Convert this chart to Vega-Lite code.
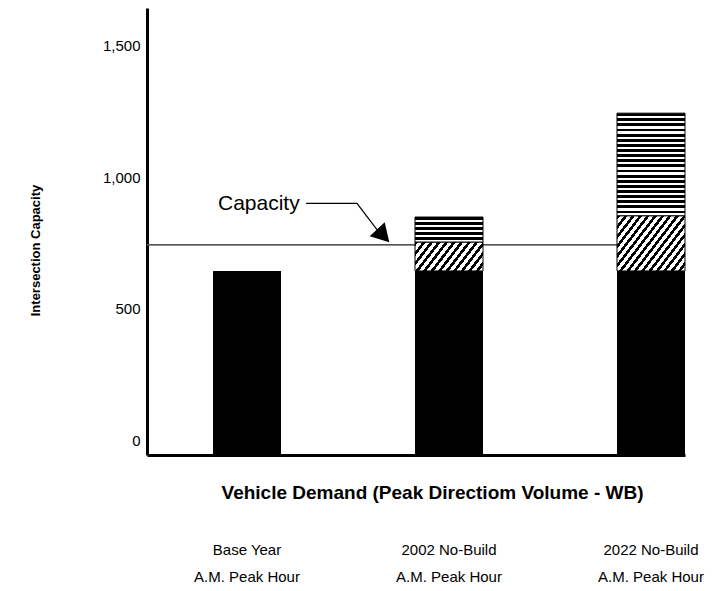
{
  "$schema": "https://vega.github.io/schema/vega-lite/v6.json",
  "autosize": "none",
  "width": 538,
  "height": 447,
  "padding": {"left": 147, "top": 8, "right": 30, "bottom": 136},
  "background": "white",
  "config": {
    "view": {"stroke": null},
    "font": "Liberation Sans",
    "axis": {"labelFont": "Liberation Sans", "titleFont": "Liberation Sans", "labelColor": "#000", "titleColor": "#000"}
  },
  "resolve": {"scale": {"x": "independent"}},
  "layer": [
    {
      "data": {
        "values": [
          {"period": "Base Year", "segment": "Existing", "order": 1, "value": 700},
          {"period": "2002 No-Build", "segment": "Existing", "order": 1, "value": 700},
          {"period": "2002 No-Build", "segment": "Growth", "order": 2, "value": 110},
          {"period": "2002 No-Build", "segment": "Development", "order": 3, "value": 95},
          {"period": "2022 No-Build", "segment": "Existing", "order": 1, "value": 700},
          {"period": "2022 No-Build", "segment": "Growth", "order": 2, "value": 210},
          {"period": "2022 No-Build", "segment": "Development", "order": 3, "value": 390}
        ]
      },
      "transform": [
        {"stack": "value", "groupby": ["period"], "sort": [{"field": "order", "order": "ascending"}], "as": ["v0", "v1"]}
      ],
      "encoding": {
        "x": {
          "field": "period", "type": "nominal",
          "scale": {"domain": ["Base Year", "2002 No-Build", "2022 No-Build"], "paddingInner": 0.6634, "paddingOuter": 0.1634, "align": 1},
          "axis": {
            "title": "Vehicle Demand (Peak Directiom Volume - WB)",
            "titleFontWeight": "bold", "titleFontSize": 19,
            "titleX": 285, "titleY": 28, "titleAnchor": "middle",
            "labelExpr": "[datum.value, 'A.M. Peak Hour']",
            "labelAngle": 0, "labelFontSize": 15, "labelLineHeight": 27,
            "labelPadding": 87, "labelBaseline": "top",
            "ticks": false, "domainColor": "#000", "domainWidth": 3, "grid": false
          }
        },
        "y": {
          "field": "v1", "type": "quantitative",
          "scale": {"domain": [0, 1700], "nice": false},
          "axis": {
            "title": "Intersection Capacity",
            "titleFontWeight": "bold", "titleFontSize": 13,
            "titleX": -112, "titleY": 242, "titleAngle": -90, "titleBaseline": "middle", "titleAnchor": "middle",
            "values": [0, 500, 1000, 1500], "format": ",.0f",
            "labelFontSize": 15, "labelOffset": -15, "labelPadding": 7,
            "ticks": false, "grid": false, "domainColor": "#000", "domainWidth": 3
          }
        },
        "y2": {"field": "v0"}
      },
      "layer": [
        {
          "mark": {"type": "rule", "color": "#555", "strokeWidth": 1},
          "encoding": {"y": {"datum": 800, "type": "quantitative"}, "y2": null, "x": null}
        },
        {
          "transform": [{"filter": "datum.segment === 'Existing'"}],
          "mark": {"type": "bar", "fill": "#000"}
        },
        {
          "transform": [{"filter": "datum.segment === 'Growth' && datum.period === '2002 No-Build'"}],
          "mark": {"type": "bar", "stroke": "#000", "strokeWidth": 1, "fill": {
            "gradient": "linear", "x1": 0, "y1": 0, "x2": 1.199, "y2": 0.393,
            "stops": [
              {"offset": 0, "color": "#000"}, {"offset": 0.0375, "color": "#000"}, {"offset": 0.0375, "color": "#fff"}, {"offset": 0.0833, "color": "#fff"},
              {"offset": 0.0833, "color": "#000"}, {"offset": 0.1208, "color": "#000"}, {"offset": 0.1208, "color": "#fff"}, {"offset": 0.1667, "color": "#fff"},
              {"offset": 0.1667, "color": "#000"}, {"offset": 0.2042, "color": "#000"}, {"offset": 0.2042, "color": "#fff"}, {"offset": 0.25, "color": "#fff"},
              {"offset": 0.25, "color": "#000"}, {"offset": 0.2875, "color": "#000"}, {"offset": 0.2875, "color": "#fff"}, {"offset": 0.3333, "color": "#fff"},
              {"offset": 0.3333, "color": "#000"}, {"offset": 0.3708, "color": "#000"}, {"offset": 0.3708, "color": "#fff"}, {"offset": 0.4167, "color": "#fff"},
              {"offset": 0.4167, "color": "#000"}, {"offset": 0.4542, "color": "#000"}, {"offset": 0.4542, "color": "#fff"}, {"offset": 0.5, "color": "#fff"},
              {"offset": 0.5, "color": "#000"}, {"offset": 0.5375, "color": "#000"}, {"offset": 0.5375, "color": "#fff"}, {"offset": 0.5833, "color": "#fff"},
              {"offset": 0.5833, "color": "#000"}, {"offset": 0.6208, "color": "#000"}, {"offset": 0.6208, "color": "#fff"}, {"offset": 0.6667, "color": "#fff"},
              {"offset": 0.6667, "color": "#000"}, {"offset": 0.7042, "color": "#000"}, {"offset": 0.7042, "color": "#fff"}, {"offset": 0.75, "color": "#fff"},
              {"offset": 0.75, "color": "#000"}, {"offset": 0.7875, "color": "#000"}, {"offset": 0.7875, "color": "#fff"}, {"offset": 0.8333, "color": "#fff"},
              {"offset": 0.8333, "color": "#000"}, {"offset": 0.8708, "color": "#000"}, {"offset": 0.8708, "color": "#fff"}, {"offset": 0.9167, "color": "#fff"},
              {"offset": 0.9167, "color": "#000"}, {"offset": 0.9542, "color": "#000"}, {"offset": 0.9542, "color": "#fff"}, {"offset": 1, "color": "#fff"}
            ]
          }}
        },
        {
          "transform": [{"filter": "datum.segment === 'Growth' && datum.period === '2022 No-Build'"}],
          "mark": {"type": "bar", "stroke": "#000", "strokeWidth": 1, "fill": {
            "gradient": "linear", "x1": 0, "y1": 0, "x2": 1.17, "y2": 0.728,
            "stops": [
              {"offset": 0, "color": "#000"}, {"offset": 0.03, "color": "#000"}, {"offset": 0.03, "color": "#fff"}, {"offset": 0.0667, "color": "#fff"},
              {"offset": 0.0667, "color": "#000"}, {"offset": 0.0967, "color": "#000"}, {"offset": 0.0967, "color": "#fff"}, {"offset": 0.1333, "color": "#fff"},
              {"offset": 0.1333, "color": "#000"}, {"offset": 0.1633, "color": "#000"}, {"offset": 0.1633, "color": "#fff"}, {"offset": 0.2, "color": "#fff"},
              {"offset": 0.2, "color": "#000"}, {"offset": 0.23, "color": "#000"}, {"offset": 0.23, "color": "#fff"}, {"offset": 0.2667, "color": "#fff"},
              {"offset": 0.2667, "color": "#000"}, {"offset": 0.2967, "color": "#000"}, {"offset": 0.2967, "color": "#fff"}, {"offset": 0.3333, "color": "#fff"},
              {"offset": 0.3333, "color": "#000"}, {"offset": 0.3633, "color": "#000"}, {"offset": 0.3633, "color": "#fff"}, {"offset": 0.4, "color": "#fff"},
              {"offset": 0.4, "color": "#000"}, {"offset": 0.43, "color": "#000"}, {"offset": 0.43, "color": "#fff"}, {"offset": 0.4667, "color": "#fff"},
              {"offset": 0.4667, "color": "#000"}, {"offset": 0.4967, "color": "#000"}, {"offset": 0.4967, "color": "#fff"}, {"offset": 0.5333, "color": "#fff"},
              {"offset": 0.5333, "color": "#000"}, {"offset": 0.5633, "color": "#000"}, {"offset": 0.5633, "color": "#fff"}, {"offset": 0.6, "color": "#fff"},
              {"offset": 0.6, "color": "#000"}, {"offset": 0.63, "color": "#000"}, {"offset": 0.63, "color": "#fff"}, {"offset": 0.6667, "color": "#fff"},
              {"offset": 0.6667, "color": "#000"}, {"offset": 0.6967, "color": "#000"}, {"offset": 0.6967, "color": "#fff"}, {"offset": 0.7333, "color": "#fff"},
              {"offset": 0.7333, "color": "#000"}, {"offset": 0.7633, "color": "#000"}, {"offset": 0.7633, "color": "#fff"}, {"offset": 0.8, "color": "#fff"},
              {"offset": 0.8, "color": "#000"}, {"offset": 0.83, "color": "#000"}, {"offset": 0.83, "color": "#fff"}, {"offset": 0.8667, "color": "#fff"},
              {"offset": 0.8667, "color": "#000"}, {"offset": 0.8967, "color": "#000"}, {"offset": 0.8967, "color": "#fff"}, {"offset": 0.9333, "color": "#fff"},
              {"offset": 0.9333, "color": "#000"}, {"offset": 0.9633, "color": "#000"}, {"offset": 0.9633, "color": "#fff"}, {"offset": 1, "color": "#fff"}
            ]
          }}
        },
        {
          "transform": [{"filter": "datum.segment === 'Development' && datum.period === '2002 No-Build'"}],
          "mark": {"type": "bar", "stroke": "#000", "strokeWidth": 1, "fill": {
            "gradient": "linear", "x1": 0, "y1": 0, "x2": 0, "y2": 1,
            "stops": [
              {"offset": 0, "color": "#000"}, {"offset": 0.1, "color": "#000"}, {"offset": 0.1, "color": "#fff"}, {"offset": 0.2, "color": "#fff"},
              {"offset": 0.2, "color": "#000"}, {"offset": 0.3, "color": "#000"}, {"offset": 0.3, "color": "#fff"}, {"offset": 0.4, "color": "#fff"},
              {"offset": 0.4, "color": "#000"}, {"offset": 0.5, "color": "#000"}, {"offset": 0.5, "color": "#fff"}, {"offset": 0.6, "color": "#fff"},
              {"offset": 0.6, "color": "#000"}, {"offset": 0.7, "color": "#000"}, {"offset": 0.7, "color": "#fff"}, {"offset": 0.8, "color": "#fff"},
              {"offset": 0.8, "color": "#000"}, {"offset": 0.9, "color": "#000"}, {"offset": 0.9, "color": "#fff"}, {"offset": 1, "color": "#fff"}
            ]
          }}
        },
        {
          "transform": [{"filter": "datum.segment === 'Development' && datum.period === '2022 No-Build'"}],
          "mark": {"type": "bar", "stroke": "#000", "strokeWidth": 1, "fill": {
            "gradient": "linear", "x1": 0, "y1": 0, "x2": 0, "y2": 1,
            "stops": [
              {"offset": 0, "color": "#000"}, {"offset": 0.0275, "color": "#000"}, {"offset": 0.0275, "color": "#fff"}, {"offset": 0.05, "color": "#fff"},
              {"offset": 0.05, "color": "#000"}, {"offset": 0.0775, "color": "#000"}, {"offset": 0.0775, "color": "#fff"}, {"offset": 0.1, "color": "#fff"},
              {"offset": 0.1, "color": "#000"}, {"offset": 0.1275, "color": "#000"}, {"offset": 0.1275, "color": "#fff"}, {"offset": 0.15, "color": "#fff"},
              {"offset": 0.15, "color": "#000"}, {"offset": 0.1775, "color": "#000"}, {"offset": 0.1775, "color": "#fff"}, {"offset": 0.2, "color": "#fff"},
              {"offset": 0.2, "color": "#000"}, {"offset": 0.2275, "color": "#000"}, {"offset": 0.2275, "color": "#fff"}, {"offset": 0.25, "color": "#fff"},
              {"offset": 0.25, "color": "#000"}, {"offset": 0.2775, "color": "#000"}, {"offset": 0.2775, "color": "#fff"}, {"offset": 0.3, "color": "#fff"},
              {"offset": 0.3, "color": "#000"}, {"offset": 0.3275, "color": "#000"}, {"offset": 0.3275, "color": "#fff"}, {"offset": 0.35, "color": "#fff"},
              {"offset": 0.35, "color": "#000"}, {"offset": 0.3775, "color": "#000"}, {"offset": 0.3775, "color": "#fff"}, {"offset": 0.4, "color": "#fff"},
              {"offset": 0.4, "color": "#000"}, {"offset": 0.4275, "color": "#000"}, {"offset": 0.4275, "color": "#fff"}, {"offset": 0.45, "color": "#fff"},
              {"offset": 0.45, "color": "#000"}, {"offset": 0.4775, "color": "#000"}, {"offset": 0.4775, "color": "#fff"}, {"offset": 0.5, "color": "#fff"},
              {"offset": 0.5, "color": "#000"}, {"offset": 0.5275, "color": "#000"}, {"offset": 0.5275, "color": "#fff"}, {"offset": 0.55, "color": "#fff"},
              {"offset": 0.55, "color": "#000"}, {"offset": 0.5775, "color": "#000"}, {"offset": 0.5775, "color": "#fff"}, {"offset": 0.6, "color": "#fff"},
              {"offset": 0.6, "color": "#000"}, {"offset": 0.6275, "color": "#000"}, {"offset": 0.6275, "color": "#fff"}, {"offset": 0.65, "color": "#fff"},
              {"offset": 0.65, "color": "#000"}, {"offset": 0.6775, "color": "#000"}, {"offset": 0.6775, "color": "#fff"}, {"offset": 0.7, "color": "#fff"},
              {"offset": 0.7, "color": "#000"}, {"offset": 0.7275, "color": "#000"}, {"offset": 0.7275, "color": "#fff"}, {"offset": 0.75, "color": "#fff"},
              {"offset": 0.75, "color": "#000"}, {"offset": 0.7775, "color": "#000"}, {"offset": 0.7775, "color": "#fff"}, {"offset": 0.8, "color": "#fff"},
              {"offset": 0.8, "color": "#000"}, {"offset": 0.8275, "color": "#000"}, {"offset": 0.8275, "color": "#fff"}, {"offset": 0.85, "color": "#fff"},
              {"offset": 0.85, "color": "#000"}, {"offset": 0.8775, "color": "#000"}, {"offset": 0.8775, "color": "#fff"}, {"offset": 0.9, "color": "#fff"},
              {"offset": 0.9, "color": "#000"}, {"offset": 0.9275, "color": "#000"}, {"offset": 0.9275, "color": "#fff"}, {"offset": 0.95, "color": "#fff"},
              {"offset": 0.95, "color": "#000"}, {"offset": 0.9775, "color": "#000"}, {"offset": 0.9775, "color": "#fff"}, {"offset": 1, "color": "#fff"}
            ]
          }}
        }
      ]
    },
    {
      "encoding": {
        "x": {"field": "ax", "type": "quantitative", "scale": {"domain": [-0.4975, 2.1658], "nice": false, "zero": false}, "axis": null},
        "y": {"field": "ay", "type": "quantitative"}
      },
      "layer": [
        {
          "data": {"values": [{"ax": -0.146, "ay": 953, "text": "Capacity"}]},
          "mark": {"type": "text", "align": "left", "baseline": "middle", "fontSize": 21, "font": "Liberation Sans", "color": "#000"},
          "encoding": {"text": {"field": "text"}}
        },
        {
          "data": {"values": [{"ord": 1, "ax": 0.29, "ay": 957}, {"ord": 2, "ax": 0.542, "ay": 957}, {"ord": 3, "ax": 0.656, "ay": 842}]},
          "mark": {"type": "line", "color": "#000", "strokeWidth": 1.2},
          "encoding": {"order": {"field": "ord"}}
        },
        {
          "data": {"values": [{"ax": 0.672, "ay": 834}]},
          "mark": {"type": "point", "shape": "triangle-right", "filled": true, "color": "#000", "size": 420, "angle": 47, "opacity": 1}
        }
      ]
    }
  ]
}
